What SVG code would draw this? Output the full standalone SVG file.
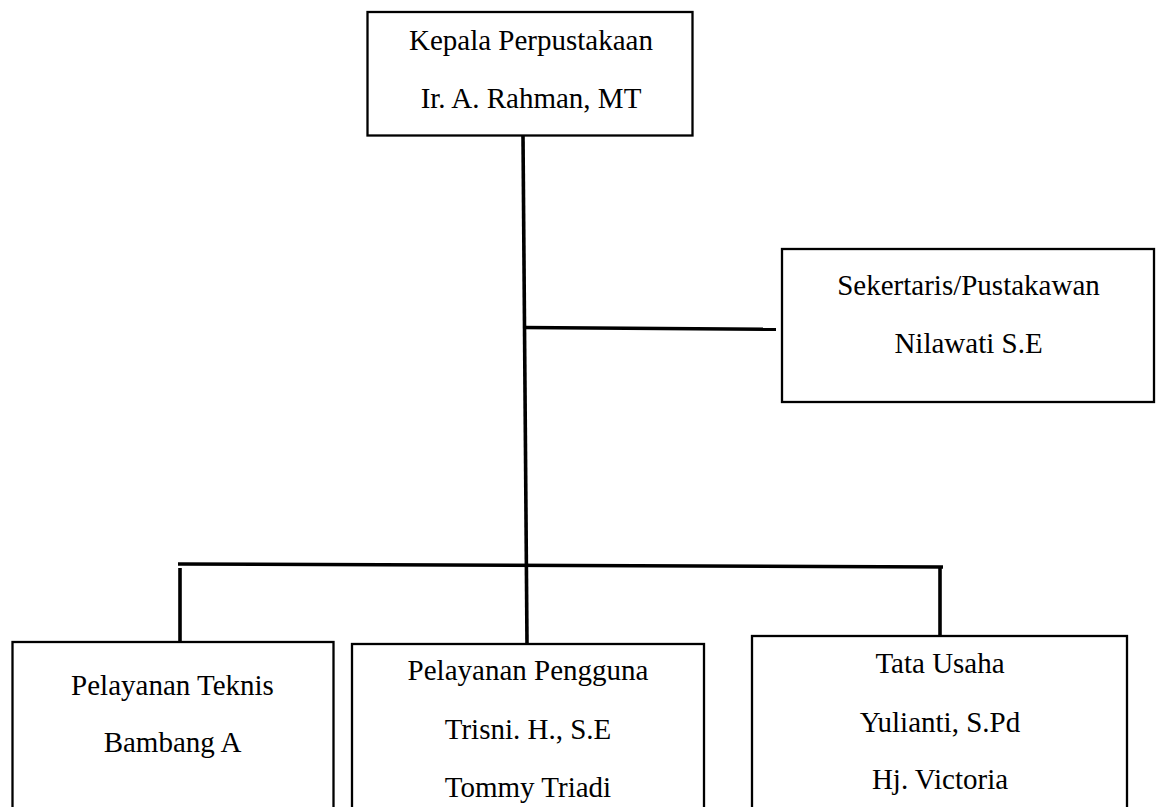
<svg xmlns="http://www.w3.org/2000/svg" width="1157" height="807" viewBox="0 0 1157 807">
<style>
.box{fill:#fff;stroke:#000;stroke-width:2.3}
.t{font-family:"Liberation Serif","Times New Roman",serif;font-size:29px;fill:#000;text-anchor:middle}
.c{stroke:#000;stroke-width:3.6;fill:none;stroke-linecap:butt}
</style>
<rect width="1157" height="807" fill="#fff"/>
<g id="connectors">
<line class="c" x1="523" y1="136" x2="527" y2="644"/>
<line class="c" x1="523" y1="327.5" x2="776" y2="329.3"/>
<line class="c" x1="178" y1="564" x2="943" y2="567"/>
<line class="c" x1="180" y1="568" x2="180" y2="641"/>
<line class="c" x1="940" y1="567" x2="940" y2="636"/>
</g>
<g id="kepala">
<rect class="box" x="367.5" y="12" width="325" height="123.5"/>
<text class="t" x="531" y="50">Kepala Perpustakaan</text>
<text class="t" x="531" y="108">Ir. A. Rahman, MT</text>
</g>
<g id="sekertaris">
<rect class="box" x="782" y="249" width="372" height="153"/>
<text class="t" x="968.5" y="295">Sekertaris/Pustakawan</text>
<text class="t" x="968.5" y="353">Nilawati S.E</text>
</g>
<g id="teknis">
<rect class="box" x="12.5" y="642" width="321" height="200"/>
<text class="t" x="172.5" y="695">Pelayanan Teknis</text>
<text class="t" x="172.5" y="752">Bambang A</text>
</g>
<g id="pengguna">
<rect class="box" x="352" y="644" width="352" height="200"/>
<text class="t" x="528" y="680">Pelayanan Pengguna</text>
<text class="t" x="528" y="739">Trisni. H., S.E</text>
<text class="t" x="528" y="797">Tommy Triadi</text>
</g>
<g id="tatausaha">
<rect class="box" x="752" y="636" width="375" height="200"/>
<text class="t" x="940" y="673">Tata Usaha</text>
<text class="t" x="940" y="732">Yulianti, S.Pd</text>
<text class="t" x="940" y="789">Hj. Victoria</text>
</g>
</svg>
